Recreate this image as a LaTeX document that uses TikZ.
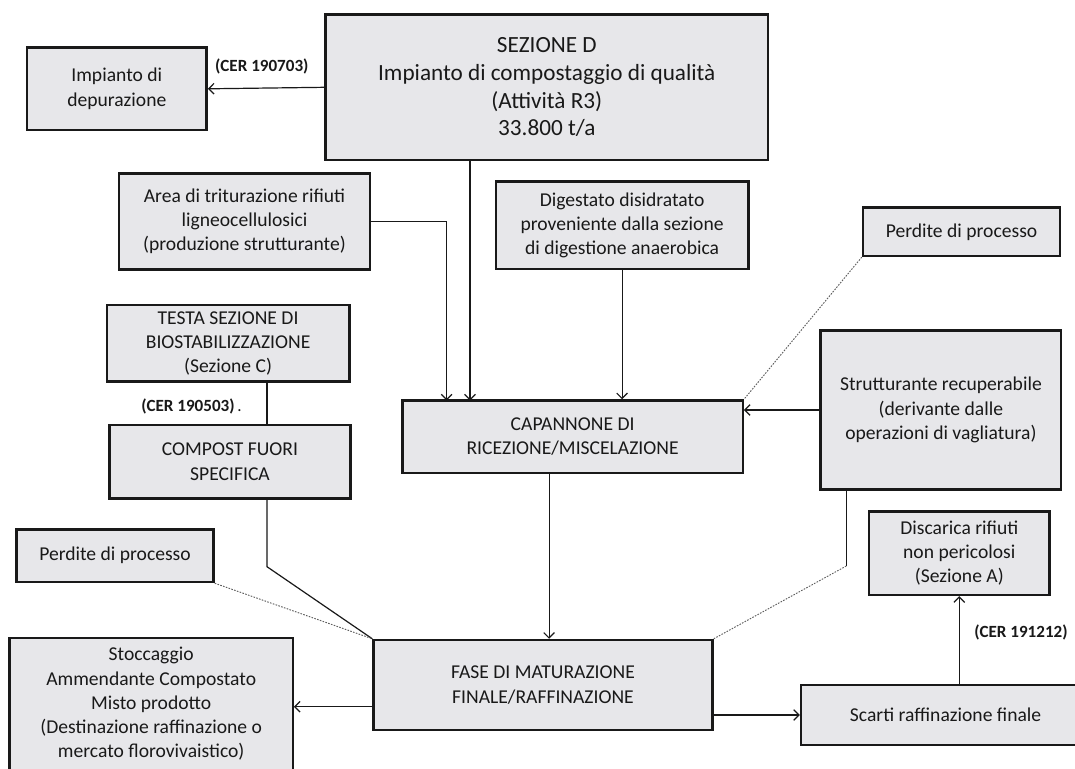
\documentclass[tikz,border=0pt]{standalone}
\usepackage{fontspec}
\setmainfont{Carlito}
\usetikzlibrary{arrows.meta}
\definecolor{boxfill}{RGB}{231,231,234}
\definecolor{ink}{RGB}{25,25,25}
\begin{document}
\begin{tikzpicture}[x=0.75pt,y=-0.75pt,
  box/.style={draw=ink,line width=1.8pt,fill=boxfill,inner sep=0pt,align=center,
    text=ink,font=\fontsize{14.7}{18.2}\selectfont},
  conn/.style={draw=ink,line width=0.9pt},
  arr/.style={conn,-{Straight Barb[length=4pt,width=8pt,line width=0.9pt]}},
  dots/.style={draw=ink!70,line width=0.7pt,dash pattern=on 1.2pt off 1pt},
  cer/.style={font=\fontsize{12.8}{15}\selectfont\bfseries,text=ink,inner sep=0pt}]
\useasboundingbox (0,0) rectangle (1075,768);
\fill[white] (0,0) rectangle (1075,768);
\clip (0,0) rectangle (1075,768);

% nodes
\node[box,minimum width=332.0pt,minimum height=109.1pt,font=\fontsize{17.4}{20.8}\selectfont] (sezD) at (546.8,87.3)
  {SEZIONE D\\Impianto di compostaggio di qualità\\(Attività R3)\\33.800 t/a};
\node[box,minimum width=134.8pt,minimum height=61.7pt] (dep) at (116.8,88.8) {Impianto di\\depurazione};
\node[box,minimum width=188.6pt,minimum height=72pt] (area) at (244.5,221.3)
  {Area di triturazione rifiuti\\ligneocellulosici\\(produzione strutturante)};
\node[box,minimum width=189.3pt,minimum height=65.6pt] (dig) at (622.1,225.3)
  {Digestato disidratato\\proveniente dalla sezione\\di digestione anaerobica};
\node[box,minimum width=147.8pt,minimum height=36.2pt] (perR) at (961.5,231.8) {Perdite di processo};
\node[box,minimum width=182.1pt,minimum height=57.4pt] (testa) at (228.1,343.3)
  {TESTA SEZIONE DI\\BIOSTABILIZZAZIONE\\(Sezione C)};
\node[box,minimum width=180.8pt,minimum height=55pt] (comp) at (230,461.7) {COMPOST FUORI\\SPECIFICA};
\node[box,minimum width=255.2pt,minimum height=54.4pt] (cap) at (572.6,436.8) {CAPANNONE DI\\RICEZIONE/MISCELAZIONE};
\node[box,minimum width=180.4pt,minimum height=119pt] (strut) at (940.9,410)
  {Strutturante recuperabile\\(derivante dalle\\operazioni di vagliatura)};
\node[box,minimum width=147.8pt,minimum height=39.5pt] (perL) at (115,555.7) {Perdite di processo};
\node[box,minimum width=135.5pt,minimum height=62.5pt] (disc) at (959.3,553.3)
  {Discarica rifiuti\\non pericolosi\\(Sezione A)};
\node[box,minimum width=254.2pt,minimum height=67.5pt] (fase) at (543,685) {FASE DI MATURAZIONE\\FINALE/RAFFINAZIONE};
\node[box,minimum width=212.3pt,minimum height=99pt] (stoc) at (151.2,704)
  {Stoccaggio\\Ammendante Compostato\\Misto prodotto\\(Destinazione raffinazione o\\mercato florovivaistico)};
\node[box,minimum width=216.8pt,minimum height=45pt] (scarti) at (945.6,715) {Scarti raffinazione finale};

% labels
\node[cer] (cer1) at (261.8,66) {(CER 190703)};
\node[cer,anchor=west] (cer2) at (141,406.7) {(CER 190503)\mdseries\,.};
\node[cer,anchor=west] (cer3) at (974,632) {(CER 191212)};

% helper coordinates
\coordinate (capA) at (446.6,400.5);
\coordinate (capB) at (470,400.5);
\coordinate (tA) at (267,381.5);
\coordinate (cBend) at (267,566.7);
\coordinate (capS) at (549.1,473);
\coordinate (sBend) at (846.3,566);
\coordinate (fL) at (373.6,706.7);

% connectors
\draw[arr] (sezD.west) -- (dep.east);
\draw[arr] (area.east) -| (capA);
\draw[arr] (sezD.south -| capB) -- (capB);
\draw[arr] (dig.south) -- (dig.south |- cap.north);
\draw[arr] (strut.west) -- (strut.west -| cap.east);
\draw[dots] (perR.south west) -- (cap.north east);
\draw[conn] (tA) -- (tA |- comp.north);
\draw[conn] (tA |- comp.south) -- (cBend) -- (fase.north west);
\draw[dots] (perL.south east) -- (fase.north west);
\draw[arr] (capS) -- (capS |- fase.north);
\draw[conn] (strut.south -| sBend) -- (sBend);
\draw[dots] (sBend) -- (fase.north east);
\draw[arr] (fL) -- (fL -| stoc.east);
\draw[arr] (fase.east |- scarti.west) -- (scarti.west);
\draw[arr] (disc.south |- scarti.north) -- (disc.south);
\end{tikzpicture}
\end{document}
